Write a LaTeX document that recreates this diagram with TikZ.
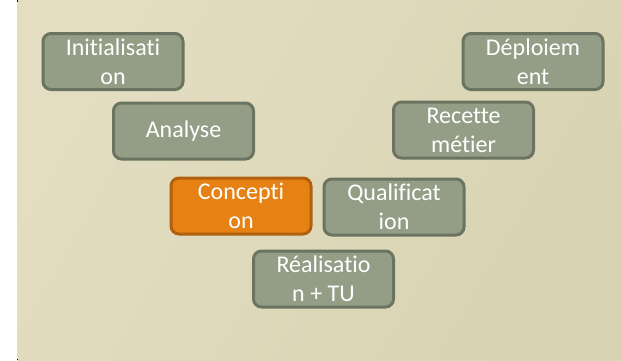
\documentclass[tikz,border=0pt]{standalone}
\usepackage{fontspec}
\setmainfont[Ligatures={NoCommon}]{Carlito}
\definecolor{bgA}{HTML}{E3DEC2}
\definecolor{bgB}{HTML}{D8D3B1}
\definecolor{boxfill}{HTML}{949E87}
\definecolor{boxline}{HTML}{6A7460}
\definecolor{hotfill}{HTML}{E68214}
\definecolor{hotline}{HTML}{B0600F}
\tikzset{
  phase/.style={draw=boxline, fill=boxfill, line width=3pt, rounded corners=8pt,
    minimum width=140pt, minimum height=56pt, inner sep=0pt, align=center,
    text=white, font=\fontsize{24}{29}\selectfont},
  current/.style={phase, draw=hotline, fill=hotfill}
}
\begin{document}
\begin{tikzpicture}[x=1pt,y=1pt]
\useasboundingbox (0,0) rectangle (622,360);
% background panel
\shade[shading=axis, left color=bgA, right color=bgB, shading angle=60] (17,0) rectangle (622,360);
\fill[black] (16.5,358) rectangle (18,360);
\fill[black] (16.5,0) rectangle (18,1.5);
% phases of the V cycle
\node[phase] (init) at (113,298.5) {Initialisati\\on};
\node[phase] (analyse) at (183.5,229) {Analyse};
\node[current] (concep) at (241,154) {Concepti\\on};
\node[phase] (real) at (323.5,81) {Réalisatio\\n + TU};
\node[phase] (qualif) at (394,153) {Qualificat\\ion};
\node[phase] (recette) at (463.5,230) {Recette\\métier};
\node[phase] (deploi) at (533,298.5) {Déploiem\\ent};
\end{tikzpicture}
\end{document}
